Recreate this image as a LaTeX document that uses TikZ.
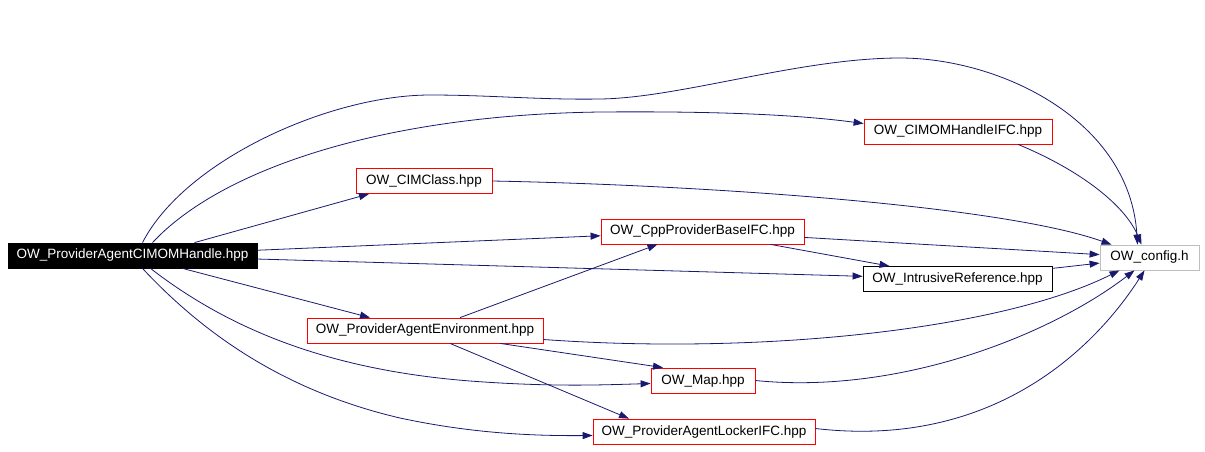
\documentclass[tikz,border=0pt]{standalone}
\usepackage{fontspec}
\setmainfont{Liberation Sans}
\usepackage{xcolor}
\usetikzlibrary{arrows.meta}
\definecolor{edgeblue}{HTML}{191970}
\definecolor{cfggray}{HTML}{BFBFBF}

\begin{document}
\begin{tikzpicture}[x=1pt,y=-1pt,
		file/.style={draw=red,line width=0.8pt,fill=white,inner sep=0pt,
			minimum height=25pt,font=\fontsize{13.5}{16}\selectfont},
		dep/.style={edgeblue,line width=0.8pt,-{Triangle[length=10pt,width=7pt]}}]
	\useasboundingbox (0,0) rectangle (1205,451);
	
	% the header itself
	\node[file,draw=black,fill=black,text=white,minimum width=249pt] (main) at (132.5,255.5) {OW\_ProviderAgentCIMOMHandle.hpp};
	
	% included files
	\node[file,minimum width=188pt] (ifc) at (958,131.5) {OW\_CIMOMHandleIFC.hpp};
	\node[file,draw=cfggray,minimum width=99pt] (cfg) at (1149.5,257.5) {OW\_config.h};
	\node[file,minimum width=136pt] (cls) at (424,181) {OW\_CIMClass.hpp};
	\node[file,minimum width=203pt] (cpp) at (702.5,231.5) {OW\_CppProviderBaseIFC.hpp};
	\node[file,draw=black,minimum width=189pt] (ref) at (957.5,279) {OW\_IntrusiveReference.hpp};
	\node[file,minimum width=236pt] (env) at (425,330.5) {OW\_ProviderAgentEnvironment.hpp};
	\node[file,minimum width=104pt] (map) at (703,380.5) {OW\_Map.hpp};
	\node[file,minimum width=222pt] (lck) at (704,431.5) {OW\_ProviderAgentLockerIFC.hpp};
	
	% straight edges
	\foreach \x/\y in
	{main/cpp, main/ref, cpp/cfg, ref/cfg}{
		\draw[dep] (\x) -- (\y);
	}
	\draw[dep] ([xshift=62pt]main.north) -- ([xshift=-55pt]cls.south);
	\draw[dep] ([xshift=50pt]main.south) -- ([xshift=-55pt]env.north);
	\draw[dep] ([xshift=35pt]env.north) -- ([xshift=-45pt]cpp.south);
	\draw[dep] ([xshift=75pt]env.south) -- ([xshift=-40pt]map.north);
	\draw[dep] ([xshift=25pt]env.south) -- ([xshift=-75pt]lck.north);
	\draw[dep] ([xshift=68pt]cpp.south) -- ([xshift=-68pt]ref.north);
	
	% curved edges
	\draw[dep] ([xshift=10pt]main.north) .. controls (185,160) and (330,95) .. (430,95)
		.. controls (490,95) and (540,100) .. (600,99)
		.. controls (680,98) and (800,58) .. (900,58)
		.. controls (1000,58) and (1130,120) .. ([xshift=-12pt]cfg.north);
	\draw[dep] ([xshift=20pt]main.north) .. controls (220,170) and (380,115) .. (600,112)
		.. controls (720,111) and (800,115) .. ([yshift=8pt]ifc.west);
	\draw[dep] ([xshift=18pt]main.south) .. controls (230,330) and (330,370) .. (470,381)
		.. controls (550,387) and (600,385) .. ([yshift=-3pt]map.west);
	\draw[dep] ([xshift=10pt]main.south) .. controls (200,330) and (280,390) .. (400,418)
		.. controls (470,433) and (530,436) .. ([yshift=-4pt]lck.west);
	\draw[dep] ([xshift=60pt]ifc.south) .. controls (1080,170) and (1125,205) .. ([xshift=-8pt]cfg.north);
	\draw[dep] (cls.east) .. controls (700,185) and (1000,205) .. ([xshift=-38pt]cfg.north);
	\draw[dep] ([yshift=-9pt]env.east) .. controls (760,355) and (1000,330) .. ([xshift=-30pt]cfg.south);
	\draw[dep] (map.east) .. controls (900,395) and (1050,335) .. ([xshift=-15pt]cfg.south);
	\draw[dep] ([yshift=3pt]lck.east) .. controls (1000,450) and (1100,340) .. ([xshift=-5pt]cfg.south);
\end{tikzpicture}
\end{document}
